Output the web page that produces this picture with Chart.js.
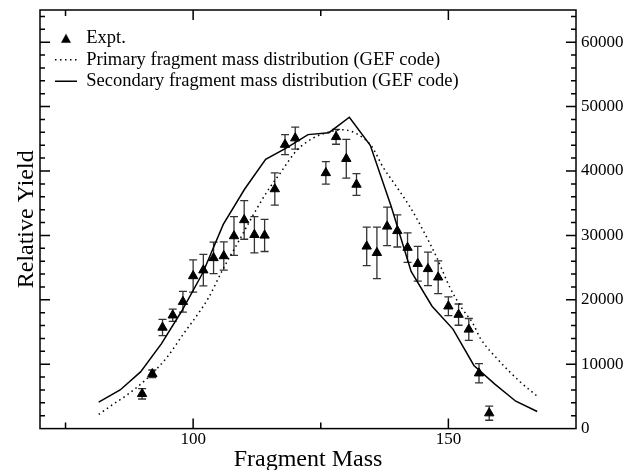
<!DOCTYPE html>
<html>
<head>
<meta charset="utf-8">
<script src="https://cdn.jsdelivr.net/npm/chart.js@4.4.1/dist/chart.umd.min.js"></script>
<style>
  html, body { margin: 0; padding: 0; background: #fff; }
  #wrap { width: 633px; height: 470px; }
</style>
</head>
<body>
<div id="wrap"><canvas id="massChart"></canvas></div>
<script>
// experimental yields with errors
const massExpt = [90, 92, 94, 96, 98, 100, 102, 104, 106, 108, 110, 112, 114, 116, 118, 120,
                  126, 128, 130, 132, 134, 136, 138, 140, 142, 144, 146, 148, 150, 152, 154, 156, 158];
const yieldExpt = [5400, 8500, 15700, 17600, 19700, 23700, 24600, 26500, 26800, 29900, 32400, 30100, 30000, 37200, 44100, 45100,
                   39700, 45300, 41900, 37900, 28300, 27300, 31400, 30700, 28100, 25600, 24800, 23500, 19000, 17700, 15400, 8600, 2400];
const errExpt = [800, 600, 1250, 950, 1600, 2500, 2450, 2450, 2200, 3000, 3000, 2800, 2500, 2500, 1550, 1700,
                 1750, 1150, 3000, 1700, 3000, 4000, 3000, 2500, 2300, 2700, 2600, 2550, 1450, 1650, 1700, 1500, 1100];

// GEF primary (dotted)
const massPrimary = [81.5, 84, 87, 91, 95, 98, 101.3, 103, 106, 109, 111.5, 114.4, 117, 120.3, 123.5, 126.8, 129.4,
                     132, 135, 137.2, 139.9, 142.5, 145.1, 147.7, 150.3, 152.6, 154.9, 156.2, 159.5, 164, 167.3];
const yieldPrimary = [2200, 3600, 5200, 7800, 11200, 14600, 18200, 20300, 25000, 29200, 32800, 36700, 39600, 43200, 45100, 46100, 46400,
                      45800, 43800, 40600, 37500, 34400, 30700, 26600, 21900, 18750, 16200, 14100, 10900, 7300, 5100];

// GEF secondary (solid)
const massSecondary = [81.5, 85.7, 89.7, 93.8, 97.8, 101.9, 105.9, 110.1, 114.2, 118.3, 122.5, 126.6, 130.6,
                       134.7, 138.8, 142.7, 146.8, 150.9, 155.0, 159.1, 163.2, 167.4];
const yieldSecondary = [4100, 6000, 8800, 13200, 18300, 24200, 31700, 37200, 41800, 43600, 45650, 45950, 48350,
                        44000, 34500, 24400, 19000, 15450, 9800, 6900, 4250, 2650];

// axis ticks (major ones get labels)
const xTicks = [75, 100, 125, 150];
const xTickLabels = [100, 150];
const yTicks = [0, 2000, 4000, 6000, 8000, 10000, 12000, 14000, 16000, 18000, 20000, 22000, 24000, 26000,
                28000, 30000, 32000, 34000, 36000, 38000, 40000, 42000, 44000, 46000, 48000, 50000, 52000,
                54000, 56000, 58000, 60000, 62000, 64000];
const yTickLabels = [0, 10000, 20000, 30000, 40000, 50000, 60000];

const serif = "'Liberation Serif', 'DejaVu Serif', serif";
const dotted = [1.5, 3.5];

function toPoints(xs, ys) {
    return xs.map(function(x, i) { return {x: x, y: ys[i]}; });
}

// small filled triangle for the legend entry
function legendTriangle() {
    const c = document.createElement('canvas');
    c.width = 12; c.height = 11;
    const g = c.getContext('2d');
    g.fillStyle = '#000';
    g.beginPath();
    g.moveTo(6, 1); g.lineTo(11, 10); g.lineTo(1, 10);
    g.closePath();
    g.fill();
    return c;
}

// error bars under the triangles
const errorBars = {
    id: 'errorBars',
    beforeDatasetsDraw(chart) {
        const ctx = chart.ctx;
        const xs = chart.scales.x, ys = chart.scales.y;
        ctx.save();
        ctx.strokeStyle = '#333';
        ctx.lineWidth = 1.3;
        massExpt.forEach(function(m, i) {
            const px = xs.getPixelForValue(m);
            const top = ys.getPixelForValue(yieldExpt[i] + errExpt[i]);
            const bot = ys.getPixelForValue(yieldExpt[i] - errExpt[i]);
            ctx.beginPath();
            ctx.moveTo(px, top); ctx.lineTo(px, bot);
            ctx.moveTo(px - 4, top); ctx.lineTo(px + 4, top);
            ctx.moveTo(px - 4, bot); ctx.lineTo(px + 4, bot);
            ctx.stroke();
        });
        ctx.restore();
    }
};

// box around the plot with inward ticks on all four sides
const frameTicks = {
    id: 'frameTicks',
    afterDatasetsDraw(chart) {
        const ctx = chart.ctx;
        const a = chart.chartArea;
        const xs = chart.scales.x, ys = chart.scales.y;
        ctx.save();
        ctx.strokeStyle = '#000';
        ctx.lineWidth = 1.5;
        ctx.strokeRect(a.left, a.top, a.right - a.left, a.bottom - a.top);
        ctx.beginPath();
        xs.ticks.forEach(function(t) {
            if (t.value <= xs.min || t.value >= xs.max) return;
            const len = xTickLabels.includes(t.value) ? 10 : 6;
            const px = xs.getPixelForValue(t.value);
            ctx.moveTo(px, a.bottom); ctx.lineTo(px, a.bottom - len);
            ctx.moveTo(px, a.top); ctx.lineTo(px, a.top + len);
        });
        ys.ticks.forEach(function(t) {
            if (t.value <= ys.min || t.value >= ys.max) return;
            const len = yTickLabels.includes(t.value) ? 10 : 5;
            const py = ys.getPixelForValue(t.value);
            ctx.moveTo(a.left, py); ctx.lineTo(a.left + len, py);
            ctx.moveTo(a.right, py); ctx.lineTo(a.right - len, py);
        });
        ctx.stroke();
        ctx.restore();
    }
};

// put the in-plot legend a bit off the top-left corner
const legendOffset = {
    id: 'legendOffset',
    afterLayout(chart) {
        if (!chart.legend) return;
        chart.legend.left = chart.chartArea.left + 12;
        chart.legend.top = chart.chartArea.top + 16;
    }
};

const config = {
    type: 'scatter',
    data: {
        datasets: [{
            label: 'Expt.',
            data: toPoints(massExpt, yieldExpt),
            pointStyle: 'triangle',
            pointRadius: 5.4,
            pointHoverRadius: 5.4,
            backgroundColor: '#000',
            borderColor: '#000',
            borderWidth: 1,
            showLine: false
        }, {
            label: 'Primary fragment mass distribution (GEF code)',
            data: toPoints(massPrimary, yieldPrimary),
            showLine: true,
            borderColor: '#000',
            borderWidth: 1.5,
            borderDash: dotted,
            cubicInterpolationMode: 'monotone',
            pointRadius: 0,
            pointStyle: 'line'
        }, {
            label: 'Secondary fragment mass distribution (GEF code)',
            data: toPoints(massSecondary, yieldSecondary),
            showLine: true,
            borderColor: '#000',
            borderWidth: 1.5,
            tension: 0,
            pointRadius: 0,
            pointStyle: 'line'
        }]
    },
    options: {
        responsive: true,
        maintainAspectRatio: false,
        animation: false,
        layout: { padding: { left: 10, right: 4.5, top: 10, bottom: 0 } },
        plugins: {
            tooltip: { enabled: false },
            legend: {
                position: 'chartArea',
                align: 'start',
                labels: {
                    usePointStyle: true,
                    pointStyleWidth: 22,
                    boxHeight: 8,
                    padding: 3,
                    color: '#000',
                    font: { family: serif, size: 18.5 },
                    generateLabels: function(chart) {
                        const items = Chart.defaults.plugins.legend.labels.generateLabels(chart);
                        items[0].pointStyle = legendTriangle();
                        items[1].lineDash = dotted;
                        items[1].lineWidth = 1.5;
                        items[2].lineDash = [];
                        items[2].lineWidth = 1.5;
                        return items;
                    }
                }
            }
        },
        scales: {
            x: {
                type: 'linear',
                min: 70,
                max: 175,
                grid: { display: false, drawTicks: false },
                border: { display: false },
                afterBuildTicks: function(scale) {
                    scale.ticks = xTicks.map(function(v) { return {value: v}; });
                },
                ticks: {
                    autoSkip: false,
                    maxRotation: 0,
                    padding: 2,
                    color: '#000',
                    font: { family: serif, size: 17, lineHeight: 1 },
                    callback: function(v) { return xTickLabels.includes(v) ? String(v) : ''; }
                },
                title: {
                    display: true,
                    text: 'Fragment Mass',
                    color: '#000',
                    padding: { top: 0, bottom: 0 },
                    font: { family: serif, size: 24, lineHeight: 0.85 }
                }
            },
            y: {
                position: 'right',
                min: 0,
                max: 65000,
                grid: { display: false, drawTicks: false },
                border: { display: false },
                afterBuildTicks: function(scale) {
                    scale.ticks = yTicks.map(function(v) { return {value: v}; });
                },
                ticks: {
                    autoSkip: false,
                    padding: 5,
                    color: '#000',
                    font: { family: serif, size: 17, lineHeight: 0.5 },
                    callback: function(v) { return yTickLabels.includes(v) ? String(v) : ''; }
                }
            },
            yl: {
                position: 'left',
                min: 0,
                max: 65000,
                grid: { display: false, drawTicks: false },
                border: { display: false },
                ticks: { display: false },
                title: {
                    display: true,
                    text: 'Relative Yield',
                    color: '#000',
                    padding: { top: 5, bottom: 1 },
                    font: { family: serif, size: 24, lineHeight: 1 }
                }
            }
        }
    },
    plugins: [errorBars, frameTicks, legendOffset]
};

const massChart = new Chart(document.getElementById('massChart'), config);
</script>
</body>
</html>
